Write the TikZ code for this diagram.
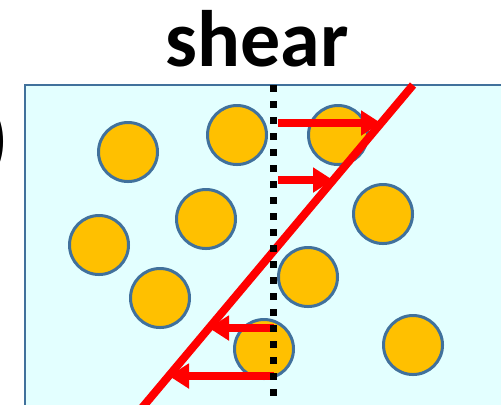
\documentclass[tikz,border=0pt]{standalone}
\usepackage{fontspec}
\setsansfont{Carlito}
\usetikzlibrary{arrows.meta}
\definecolor{edgeblue}{HTML}{41719C}
\definecolor{cellfill}{HTML}{E3FFFF}
\definecolor{grain}{HTML}{FFC000}
\definecolor{shearred}{HTML}{FF0000}
\tikzset{
  cellbox/.style={draw=edgeblue, fill=cellfill, line width=1pt},
  grainball/.style={
    circle, draw=edgeblue, fill=grain, line width=1.5pt,
    minimum size=29.5pt, inner sep=0pt
  },
  profile/.style={draw=shearred, line width=4pt},
  velarrow/.style={
    -{Triangle[length=10pt,width=12pt]}, draw=shearred, line width=4pt
  },
  midline/.style={draw=black, line width=3.5pt, dash pattern=on 3.5pt off 4.5pt},
  titlelabel/.style={font=\sffamily\bfseries\fontsize{40}{48}\selectfont, inner sep=0pt},
}

\begin{document}
\begin{tikzpicture}[x=0.5pt, y=-0.5pt]
\useasboundingbox (0,0) rectangle (501,404);

% Title and cut-off label
\node[titlelabel, anchor=base] (title) at (257,66) {shear};
\node[titlelabel, anchor=base east] (tag) at (9,165) {)};

% Cell
\draw[cellbox] (25,85) rectangle (520,420);

% Grains
\foreach \n/\px/\py in {1/128/152, 2/237/135, 3/338/135, 4/206/219, 5/99/245,
                        6/383/214, 7/308/277, 8/160/298, 9/264/349, 10/413/345}
  \node[grainball] (g\n) at (\px,\py) {};

% Velocity profile
\coordinate (s1) at (413,85);
\coordinate (s2) at (141,409);
\coordinate (m1) at (273,85);
\coordinate (m2) at (273,410);

\coordinate (a1) at (278,123); \coordinate (b1) at (381,123);
\coordinate (a2) at (278,180); \coordinate (b2) at (333,180);
\coordinate (a3) at (274,328); \coordinate (b3) at (209,328);
\coordinate (a4) at (274,376); \coordinate (b4) at (169,376);

\foreach \k in {1,...,4}
  \draw[velarrow] (a\k) -- (b\k);

\draw[profile] (s1) -- (s2);
\draw[midline] (m1) -- (m2);

\end{tikzpicture}
\end{document}
